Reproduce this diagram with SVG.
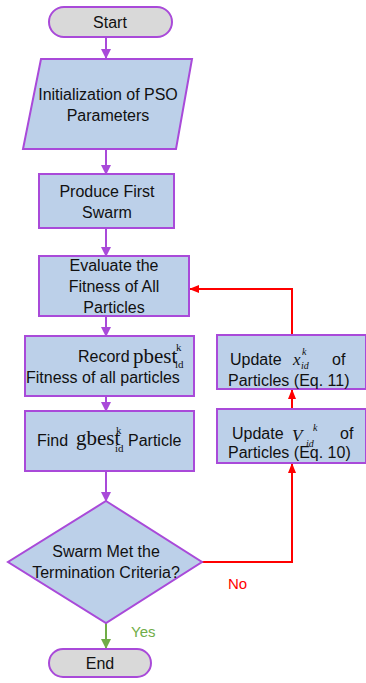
<svg xmlns="http://www.w3.org/2000/svg" width="366" height="683" viewBox="0 0 366 683">
<defs>
<style>
.box{fill:#BCD0E9;stroke:#A94AD9;stroke-width:2}
.term{fill:#D9D9D9;stroke:#A94AD9;stroke-width:2}
.t{font-family:"Liberation Sans",Arial,sans-serif;font-size:16px;fill:#111;text-anchor:middle}
.tl{font-family:"Liberation Sans",Arial,sans-serif;font-size:16px;fill:#111}
.m{font-family:"Liberation Serif","Times New Roman",serif;fill:#111}
.p{stroke:#A94AD9;stroke-width:2;fill:none}
.r{stroke:#FF0000;stroke-width:2;fill:none}
.g{stroke:#70AD47;stroke-width:2;fill:none}
</style>
<marker id="ap" markerWidth="10" markerHeight="10" refX="9" refY="5" orient="auto" markerUnits="userSpaceOnUse"><path d="M0,0 L10,5 L0,10 z" fill="#A94AD9"/></marker>
<marker id="ar" markerWidth="10" markerHeight="10" refX="9" refY="5" orient="auto" markerUnits="userSpaceOnUse"><path d="M0,1 L10,5 L0,9 z" fill="#FF0000"/></marker>
<marker id="ag" markerWidth="10" markerHeight="10" refX="9" refY="5" orient="auto" markerUnits="userSpaceOnUse"><path d="M0,0 L10,5 L0,10 z" fill="#70AD47"/></marker>
</defs>
<g id="connectors">
<line class="p" x1="106" y1="37" x2="106" y2="58" marker-end="url(#ap)"/>
<line class="p" x1="106" y1="149" x2="106" y2="174" marker-end="url(#ap)"/>
<line class="p" x1="106" y1="228" x2="106" y2="256" marker-end="url(#ap)"/>
<line class="p" x1="106" y1="316" x2="106" y2="336" marker-end="url(#ap)"/>
<line class="p" x1="106" y1="396" x2="106" y2="411" marker-end="url(#ap)"/>
<line class="p" x1="106" y1="471" x2="106" y2="501" marker-end="url(#ap)"/>
<line class="g" x1="106" y1="623" x2="106" y2="648" marker-end="url(#ag)"/>
<polyline class="r" points="202,562 292,562 292,464" marker-end="url(#ar)"/>
<line class="r" x1="292" y1="409" x2="292" y2="390" marker-end="url(#ar)"/>
<polyline class="r" points="292,335 292,289 190,289" marker-end="url(#ar)"/>
<text x="228" y="589" style="font-family:'Liberation Sans',Arial,sans-serif;font-size:15px;fill:#FF0000">No</text>
<text x="131" y="637" style="font-family:'Liberation Sans',Arial,sans-serif;font-size:15px;fill:#70AD47">Yes</text>
</g>
<g id="start">
<rect class="term" x="49" y="7" width="123" height="30" rx="15"/>
<text class="t" x="110" y="28">Start</text>
</g>
<g id="init">
<polygon class="box" points="41,59 192,59 176,149 23,149"/>
<text class="t" x="108" y="100">Initialization of PSO</text>
<text class="t" x="108" y="121">Parameters</text>
</g>
<g id="produce">
<rect class="box" x="39" y="174" width="135" height="54"/>
<text class="t" x="107" y="197">Produce First</text>
<text class="t" x="107" y="218">Swarm</text>
</g>
<g id="evaluate">
<rect class="box" x="39" y="256" width="150" height="60"/>
<text class="t" x="114" y="271">Evaluate the</text>
<text class="t" x="114" y="292">Fitness of All</text>
<text class="t" x="114" y="313">Particles</text>
</g>
<g id="record">
<rect class="box" x="25" y="336" width="169" height="60"/>
<text class="tl" x="78" y="362">Record</text>
<text class="m" x="133" y="363" style="font-size:21px">pbest</text>
<text class="m" x="176" y="351" style="font-size:11px">k</text>
<text class="m" x="175" y="368" style="font-size:11px">id</text>
<text class="tl" x="26" y="383">Fitness of all particles</text>
</g>
<g id="find">
<rect class="box" x="25" y="411" width="169" height="60"/>
<text class="tl" x="37" y="446">Find</text>
<text class="m" x="76" y="445" style="font-size:21px">gbest</text>
<text class="m" x="116" y="434" style="font-size:11px">k</text>
<text class="m" x="115" y="452" style="font-size:11px">id</text>
<text class="tl" x="128" y="446">Particle</text>
</g>
<g id="decision">
<polygon class="box" points="106,501 202,562 106,623 8,562"/>
<text class="t" x="106" y="557">Swarm Met the</text>
<text class="t" x="106" y="578">Termination Criteria?</text>
</g>
<g id="end">
<rect class="term" x="49" y="649" width="102" height="28" rx="14"/>
<text class="t" x="100" y="669">End</text>
</g>
<g id="updatex">
<rect class="box" x="217" y="335" width="149" height="54"/>
<text class="tl" x="230" y="365">Update</text>
<text class="m" x="293" y="365" style="font-size:17px;font-style:italic">x</text>
<text class="m" x="302" y="355" style="font-size:10px;font-style:italic">k</text>
<text class="m" x="301" y="369" style="font-size:10px;font-style:italic">id</text>
<text class="tl" x="332" y="365">of</text>
<text class="tl" x="228" y="386">Particles (Eq. 11)</text>
</g>
<g id="updatev">
<rect class="box" x="217" y="409" width="149" height="54"/>
<text class="tl" x="232" y="439">Update</text>
<text class="m" x="292" y="441" style="font-size:17px;font-style:italic">V</text>
<text class="m" x="313" y="431" style="font-size:10px;font-style:italic">k</text>
<text class="m" x="306" y="447" style="font-size:10px;font-style:italic">id</text>
<text class="tl" x="340" y="439">of</text>
<text class="tl" x="228" y="458">Particles (Eq. 10)</text>
</g>
</svg>
